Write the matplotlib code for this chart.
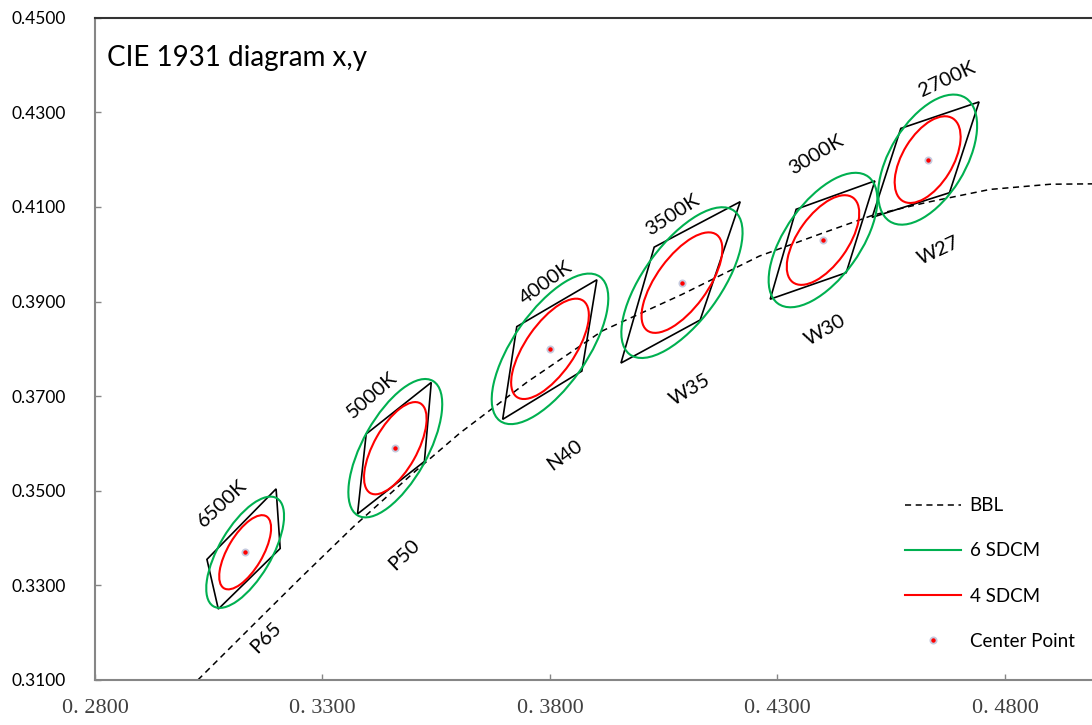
import numpy as np
import matplotlib
matplotlib.use("Agg")
from matplotlib import pyplot as plt
from matplotlib.patches import Ellipse, Polygon
from matplotlib.lines import Line2D

# colour temperature names and the centre points (x, y)
cct_names = ["6500K", "5000K", "4000K", "3500K", "3000K", "2700K"]
codes = ["P65", "P50", "N40", "W35", "W30", "W27"]
center_x = [0.313, 0.346, 0.380, 0.409, 0.440, 0.463]
center_y = [0.337, 0.359, 0.380, 0.394, 0.403, 0.420]

# 1 SDCM ellipse: semi axes and rotation (deg)
ell_a = [0.00223, 0.00274, 0.00313, 0.00317, 0.00278, 0.00258]
ell_b = [0.00095, 0.00118, 0.00134, 0.00139, 0.00136, 0.00137]
ell_theta = [58.23, 59.62, 54.00, 52.58, 53.13, 57.17]

# quadrangle corners, order: top right, left upper, bottom left, right lower
quad_x = [
    [0.3198, 0.3046, 0.3071, 0.3207],
    [0.3539, 0.3396, 0.3377, 0.3524],
    [0.3903, 0.3727, 0.3696, 0.3870],
    [0.4218, 0.4029, 0.3956, 0.4130],
    [0.4514, 0.4341, 0.4284, 0.4451],
    [0.4743, 0.4571, 0.4508, 0.4678],
]
quad_y = [
    [0.3504, 0.3355, 0.3250, 0.3378],
    [0.3729, 0.3620, 0.3451, 0.3562],
    [0.3946, 0.3847, 0.3651, 0.3753],
    [0.4111, 0.4015, 0.3770, 0.3861],
    [0.4155, 0.4095, 0.3905, 0.3961],
    [0.4322, 0.4266, 0.4078, 0.4130],
]

# black body locus
bbl_x = [0.3026, 0.3166, 0.3251, 0.3368, 0.3500, 0.3602, 0.3750, 0.3915,
         0.4090, 0.4260, 0.4400, 0.4511, 0.4630, 0.4767, 0.4900, 0.5020]
bbl_y = [0.3100, 0.3234, 0.3315, 0.3424, 0.3538, 0.3622, 0.3730, 0.3838,
         0.3915, 0.3996, 0.4045, 0.4083, 0.4110, 0.4137, 0.4148, 0.4149]

x_ticks = [0.28, 0.33, 0.38, 0.43, 0.48]
y_ticks = [0.31, 0.33, 0.35, 0.37, 0.39, 0.41, 0.43, 0.45]

# label placement (layout only)
name_pos = [(0.3079, 0.3474, 43), (0.3408, 0.3703, 41), (0.3791, 0.3940, 36),
            (0.4069, 0.4083, 33), (0.4386, 0.4210, 31), (0.4673, 0.4369, 25)]
code_pos = [(0.3176, 0.3189, 45), (0.3479, 0.3364, 44), (0.3833, 0.3576, 36),
            (0.4108, 0.3713, 31), (0.4404, 0.3840, 30), (0.4653, 0.4007, 25)]

green = "#00b050"
red = "#ff0000"
gray = "#868686"
sans = ["Lato", "DejaVu Sans"]

fig = plt.figure(figsize=(10.92, 7.25), dpi=100)
ax = fig.add_axes([95 / 1092, 45 / 725, 1001 / 1092, 662.3 / 725])
ax.set_xlim(0.28, 0.50)
ax.set_ylim(0.31, 0.45)

# BBL
ax.plot(bbl_x, bbl_y, color="black", lw=1.1, ls=(0, (4, 3)), zorder=2)

for i in range(len(cct_names)):
    cx, cy = center_x[i], center_y[i]
    # quadrangle
    pts = np.column_stack([quad_x[i], quad_y[i]])
    ax.add_patch(Polygon(pts, closed=True, fill=False, ec="black", lw=1.2, zorder=3))
    # 6 and 4 step ellipses
    ax.add_patch(Ellipse((cx, cy), 2 * 6 * ell_a[i], 2 * 6 * ell_b[i], angle=ell_theta[i],
                         fill=False, ec=green, lw=1.5, zorder=4))
    ax.add_patch(Ellipse((cx, cy), 2 * 4 * ell_a[i], 2 * 4 * ell_b[i], angle=ell_theta[i],
                         fill=False, ec=red, lw=1.5, zorder=4))

ax.plot(center_x, center_y, ls="none", marker="o", ms=4.5, mfc=red, mec="#c5cade",
        mew=1.3, zorder=5)

for name, (tx, ty, rot) in zip(cct_names, name_pos):
    ax.text(tx, ty, name, rotation=rot, rotation_mode="anchor", ha="center", va="center",
            fontsize=14.5, family=sans)
for code, (tx, ty, rot) in zip(codes, code_pos):
    ax.text(tx, ty, code, rotation=rot, rotation_mode="anchor", ha="center", va="center",
            fontsize=14.5, family=sans)

ax.text(0.012, 0.927, "CIE 1931 diagram x,y", transform=ax.transAxes, fontsize=20,
        family=sans, va="baseline", ha="left")

# axes look
ax.spines["right"].set_visible(False)
ax.spines["left"].set_color(gray)
ax.spines["bottom"].set_color(gray)
ax.spines["top"].set_color("#333333")
for s in ["left", "bottom", "top"]:
    ax.spines[s].set_linewidth(1.5)
ax.set_xticks(x_ticks)
ax.set_xticklabels(["0. %d" % round(v * 10000) for v in x_ticks], family="Liberation Serif",
                   fontsize=16, color="#404040")
ax.set_yticks(y_ticks)
ax.set_yticklabels(["%.4f" % v for v in y_ticks], family=sans, fontsize=12.5)
ax.tick_params(axis="both", direction="in", length=4, width=1, color=gray)
ax.tick_params(axis="x", pad=14)
ax.tick_params(axis="y", pad=21)

handles = [
    Line2D([], [], color="black", lw=1.1, ls=(0, (4, 3))),
    Line2D([], [], color=green, lw=1.5),
    Line2D([], [], color=red, lw=1.5),
    Line2D([], [], ls="none", marker="o", ms=4.5, mfc=red, mec="#c5cade", mew=1.3),
]
labels = ["BBL", "6 SDCM", "4 SDCM", "Center Point"]
fig.legend(handles, labels, loc="center left", bbox_to_anchor=(905 / 1092, (725 - 573.5) / 725),
           frameon=False, borderpad=0, borderaxespad=0, handlelength=3.0, handletextpad=0.45,
           labelspacing=1.5, prop={"family": sans, "size": 13.5})

fig.savefig("out.png", dpi=100)
